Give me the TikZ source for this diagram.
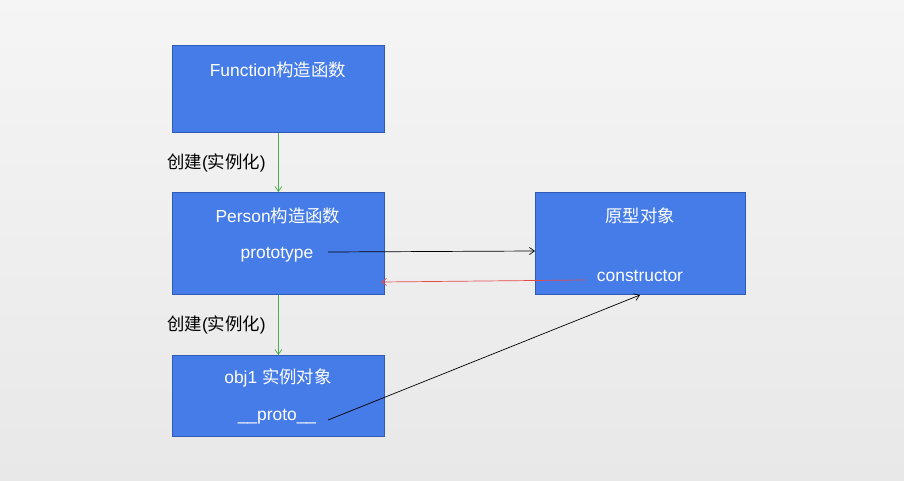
\documentclass[tikz,border=0pt]{standalone}
\usepackage{fontspec}
\setmainfont{Liberation Sans}
\newfontfamily\cjk{Noto Sans CJK SC}
\usetikzlibrary{arrows.meta}
\definecolor{boxfill}{HTML}{467CE8}
\definecolor{boxline}{HTML}{2F5BB7}
\definecolor{greenline}{HTML}{4CAF50}
\definecolor{redline}{HTML}{E84A4A}
\begin{document}
\begin{tikzpicture}[x=1pt,y=-1pt,
  box/.style={draw=boxline,fill=boxfill,line width=0.8pt,anchor=north west,inner sep=0pt},
  wtext/.style={text=white,font=\fontsize{17.4}{20}\selectfont,inner sep=0pt},
  ktext/.style={text=black,font=\fontsize{17.4}{20}\selectfont,inner sep=0pt,anchor=west},
  arr/.style={-{Straight Barb[length=5pt,width=7pt]},line width=0.7pt}]
\shade[top color=black!4,bottom color=black!9] (0,0) rectangle (904,481);
\useasboundingbox (0,0) rectangle (904,481);
\node[box,minimum width=212pt,minimum height=87pt] (fn) at (172,45) {};
\node[box,minimum width=212pt,minimum height=102pt] (person) at (172,192) {};
\node[box,minimum width=210pt,minimum height=102pt] (proto) at (535,192) {};
\node[box,minimum width=212pt,minimum height=81pt] (obj) at (172,355) {};
\node[wtext] (fnt) at (278,69.5) {Function{\cjk 构造函数}};
\node[wtext] (pt) at (278,215.5) {Person{\cjk 构造函数}};
\node[wtext] (ptype) at (277,255) {prototype};
\node[wtext] (yx) at (640,215.5) {\cjk 原型对象};
\node[wtext] (ctor) at (640,276) {constructor};
\node[wtext] (ot) at (278,377.5) {obj1 {\cjk 实例对象}};
\node[wtext] (pp) at (277,417) {\_\_proto\_\_};
\node[ktext] (c1) at (167,163) {{\cjk 创建}({\cjk 实例化})};
\node[ktext] (c2) at (167,325) {{\cjk 创建}({\cjk 实例化})};
\coordinate (pstart) at (328,252);
\coordinate (pend) at (535,251);
\coordinate (cstart) at (585,280);
\coordinate (cend) at (381,282);
\coordinate (ostart) at (328,420);
\coordinate (oend) at (640,295);
\draw[arr,greenline] (fn.south) -- (person.north);
\draw[arr,greenline] (person.south) -- (obj.north);
\draw[arr,black] (pstart) -- (pend);
\draw[arr,redline] (cstart) -- (cend);
\draw[arr,black] (ostart) -- (oend);
\end{tikzpicture}
\end{document}
